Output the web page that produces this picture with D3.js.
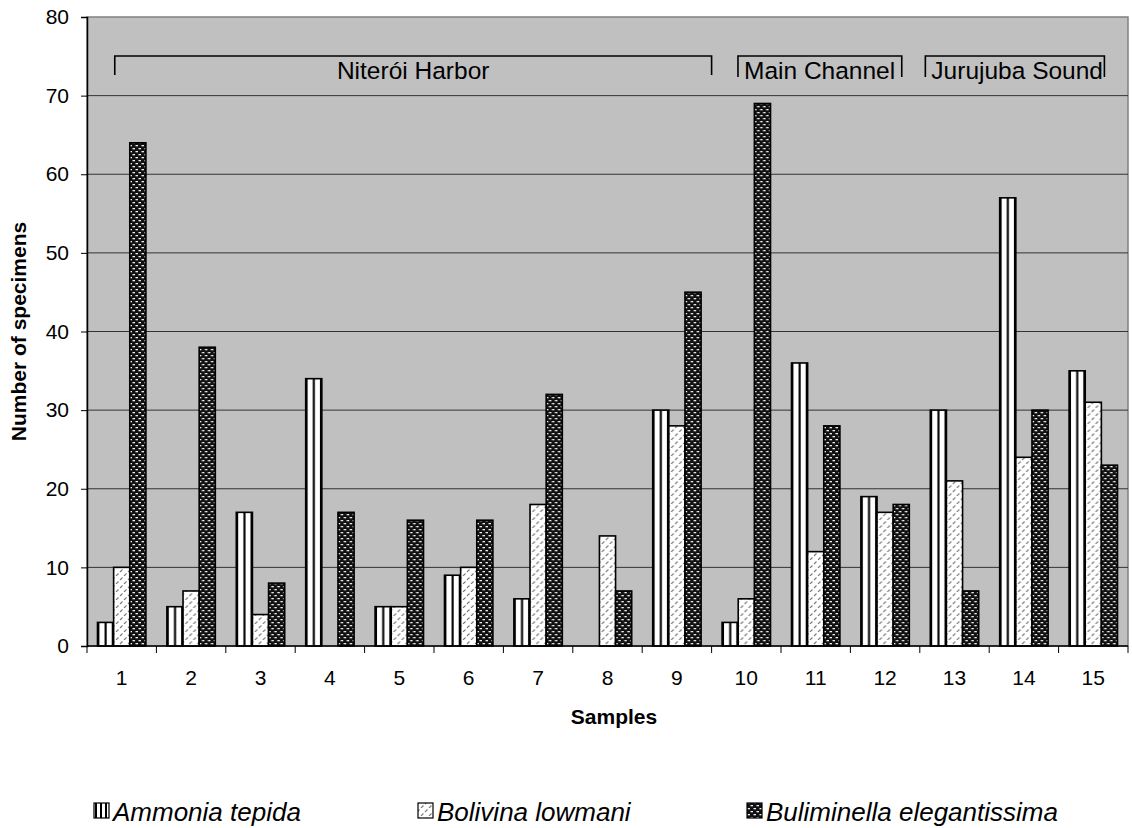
<!DOCTYPE html>
<html>
<head>
<meta charset="utf-8">
<title>Specimens per sample</title>
<style>
    body { margin: 0; background: #fff; font-family: 'Liberation Sans', Arial, sans-serif; }
    svg { display: block; }
    .y .tick line { stroke: #000; }
    .axis text, .x-label { font-family: 'Liberation Sans', Arial, sans-serif; font-size: 21px; fill: #000; }
    .axis-title { font-size: 21px; font-weight: bold; }
    .legend-label { font-size: 26px; font-style: italic; }
    .bracket-label { font-size: 24.5px; }
</style>
</head>
<body>
<svg width="1132" height="828"></svg>
<script src="https://d3js.org/d3.v7.min.js"></script>
<script>
    // data
    let samples = ["1","2","3","4","5","6","7","8","9","10","11","12","13","14","15"];
    let species = ["Ammonia tepida", "Bolivina lowmani", "Buliminella elegantissima"];
    let ammonia     = [3, 5, 17, 34, 5, 9, 6, 0, 30, 3, 36, 19, 30, 57, 35];
    let bolivina    = [10, 7, 4, 0, 5, 10, 18, 14, 28, 6, 12, 17, 21, 24, 31];
    let buliminella = [64, 38, 8, 17, 16, 16, 32, 7, 45, 69, 28, 18, 7, 30, 23];
    let yTicks = [0, 10, 20, 30, 40, 50, 60, 70, 80];

    // brackets over sample groups (start / end in sample units, 0 = left edge of sample 1)
    let groupNames = ["Niterói Harbor", "Main Channel", "Jurujuba Sound"];
    let groupStart = [0.4, 9.38, 12.08];
    let groupEnd   = [9.0, 11.74, 14.66];

    let margin = { top: 17, right: 4, bottom: 182, left: 87 };
    let W = 1132, H = 828;

    let svg = d3.select("svg");
    let defs = svg.append("defs");

    // white bar with one black stripe down the middle
    let p1 = defs.append("pattern").attr("id", "pat-amm")
        .attr("patternUnits", "objectBoundingBox")
        .attr("patternContentUnits", "objectBoundingBox")
        .attr("width", 1).attr("height", 1);
    p1.append("rect").attr("width", 1).attr("height", 1).attr("fill", "#fff");
    p1.append("rect").attr("x", 0).attr("width", 0.12).attr("height", 1).attr("fill", "#000");
    p1.append("rect").attr("x", 0.44).attr("width", 0.13).attr("height", 1).attr("fill", "#000");
    p1.append("rect").attr("x", 0.88).attr("width", 0.12).attr("height", 1).attr("fill", "#000");

    // legend version (fixed size)
    let p1s = defs.append("pattern").attr("id", "pat-amm-s")
        .attr("patternUnits", "userSpaceOnUse").attr("width", 5).attr("height", 5);
    p1s.append("rect").attr("width", 5).attr("height", 5).attr("fill", "#fff");
    p1s.append("rect").attr("width", 2).attr("height", 5).attr("fill", "#000");

    // light diagonal dashes
    let p2 = defs.append("pattern").attr("id", "pat-bol")
        .attr("patternUnits", "userSpaceOnUse").attr("width", 8).attr("height", 8);
    p2.append("rect").attr("width", 8).attr("height", 8).attr("fill", "#fff");
    p2.append("path").attr("d", "M1,4 L3.5,1.5 M5,8 L7.5,5.5")
        .attr("stroke", "#7a7a7a").attr("stroke-width", 1.1);

    // dark brick dots
    let p3 = defs.append("pattern").attr("id", "pat-bul")
        .attr("patternUnits", "userSpaceOnUse").attr("width", 6).attr("height", 6);
    p3.append("rect").attr("width", 6).attr("height", 6).attr("fill", "#111");
    p3.append("rect").attr("x", 0.5).attr("y", 1).attr("width", 2.5).attr("height", 1.3).attr("fill", "#eee");
    p3.append("rect").attr("x", 3.5).attr("y", 4).attr("width", 2.5).attr("height", 1.3).attr("fill", "#eee");

    let fills = ["url(#pat-amm)", "url(#pat-bol)", "url(#pat-bul)"];
    let legendFills = ["url(#pat-amm-s)", "url(#pat-bol)", "url(#pat-bul)"];

    let x = d3.scaleBand()
        .domain(samples)
        .range([margin.left, W - margin.right]);

    let xSub = d3.scaleBand()
        .domain(species)
        .range([0, x.bandwidth()])
        .paddingInner(0)
        .paddingOuter(0.65);

    let xPos = d3.scaleLinear()
        .domain([0, samples.length])
        .range([margin.left, W - margin.right]);

    let y = d3.scaleLinear()
        .domain([0, 80])
        .range([H - margin.bottom, margin.top]);

    // plot background
    svg.append("rect")
        .attr("x", margin.left).attr("y", margin.top)
        .attr("width", W - margin.right - margin.left)
        .attr("height", y(0) - margin.top)
        .attr("fill", "#c0c0c0")
        .attr("stroke", "#808080")
        .attr("stroke-width", 1.5);

    // gridlines
    svg.append("g")
        .selectAll("line")
        .data(yTicks.filter(d => d > 0 && d < 80))
        .join("line")
        .attr("x1", margin.left).attr("x2", W - margin.right)
        .attr("y1", d => y(d)).attr("y2", d => y(d))
        .attr("stroke", "#333").attr("stroke-width", 1);

    let rows = samples.map((s, i) => ({
        sample: s,
        vals: [ammonia[i], bolivina[i], buliminella[i]]
    }));

    // bars
    svg.append("g")
        .selectAll("g")
        .data(rows)
        .join("g")
        .attr("transform", d => `translate(${x(d.sample)},0)`)
        .selectAll("rect")
        .data(d => d.vals.map((v, j) => ({ key: species[j], v: v, j: j })).filter(e => e.v > 0))
        .join("rect")
        .attr("x", d => xSub(d.key))
        .attr("width", xSub.bandwidth())
        .attr("y", d => y(d.v))
        .attr("height", d => y(0) - y(d.v))
        .attr("fill", d => fills[d.j])
        .attr("stroke", "#000")
        .attr("stroke-width", 1.6);

    // y axis
    svg.append("g")
        .attr("class", "y axis")
        .attr("transform", `translate(${margin.left},0)`)
        .call(d3.axisLeft(y).tickValues(yTicks).tickSize(6).tickPadding(12))
        .call(g => g.select(".domain").attr("stroke", "#000").attr("stroke-width", 1.5));

    // x axis: ticks at band boundaries
    let xAxis = svg.append("g")
        .attr("class", "x axis")
        .attr("transform", `translate(0,${y(0)})`);
    xAxis.append("line")
        .attr("x1", margin.left).attr("x2", W - margin.right)
        .attr("stroke", "#000").attr("stroke-width", 1.5);
    xAxis.selectAll(".bt")
        .data(d3.range(samples.length + 1))
        .join("line")
        .attr("class", "bt")
        .attr("x1", d => xPos(d)).attr("x2", d => xPos(d))
        .attr("y1", 0).attr("y2", 7)
        .attr("stroke", "#000");
    xAxis.selectAll("text")
        .data(samples)
        .join("text")
        .attr("class", "x-label")
        .attr("x", d => x(d) + x.bandwidth() / 2)
        .attr("y", 39)
        .attr("text-anchor", "middle")
        .text(d => d);

    // axis titles
    svg.append("text")
        .attr("class", "axis-title")
        .attr("x", 614)
        .attr("y", 724)
        .attr("text-anchor", "middle")
        .text("Samples");

    svg.append("text")
        .attr("class", "axis-title")
        .attr("transform", `translate(26,${(margin.top + y(0)) / 2}) rotate(-90)`)
        .attr("text-anchor", "middle")
        .text("Number of specimens");

    // group brackets
    let br = svg.append("g");
    groupNames.forEach((name, i) => {
        let x0 = xPos(groupStart[i]), x1 = xPos(groupEnd[i]);
        let tickLen = i == 0 ? 19 : 21;
        br.append("path")
            .attr("d", `M${x0},${56 + tickLen} V56 H${x1} V${56 + tickLen}`)
            .attr("fill", "none")
            .attr("stroke", "#000")
            .attr("stroke-width", 1.6);
        br.append("text")
            .attr("class", "bracket-label")
            .attr("x", i == 0 ? (x0 + x1) / 2 : x0 + 6)
            .attr("y", 79)
            .attr("text-anchor", i == 0 ? "middle" : "start")
            .text(name);
    });

    // legend
    let legendX = [94, 418, 747];
    let legend = svg.append("g");
    species.forEach((s, i) => {
        legend.append("rect")
            .attr("x", legendX[i]).attr("y", 803)
            .attr("width", 15).attr("height", 15)
            .attr("fill", legendFills[i])
            .attr("stroke", "#000").attr("stroke-width", 1.2);
        legend.append("text")
            .attr("class", "legend-label")
            .attr("x", legendX[i] + 19)
            .attr("y", 821)
            .text(s);
    });
</script>
</body>
</html>
